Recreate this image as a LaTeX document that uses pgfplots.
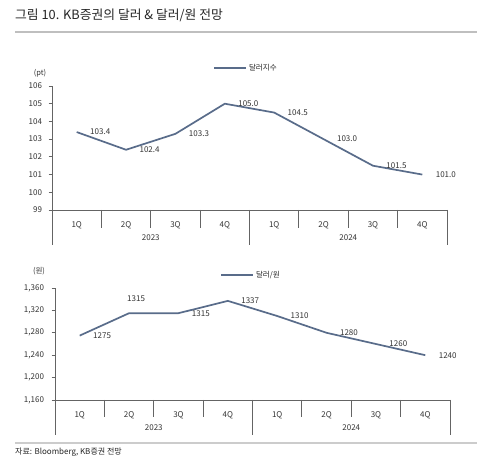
\documentclass[border=0pt]{standalone}
\usepackage{fontspec}
\setmainfont{Noto Sans CJK KR}
\usepackage{pgfplots}
\pgfplotsset{compat=1.18}
\definecolor{lineblue}{RGB}{89,108,138}
\definecolor{axisgray}{RGB}{100,100,100}
\newcommand{\sep}[3]{\draw[axisgray, line width=0.8pt] (axis cs:#1,#2) -- ([yshift=-#3]axis cs:#1,#2);}
\begin{document}
\begin{tikzpicture}[x=1pt,y=1pt]
\fill[white] (0,0) rectangle (500,468);
\path[use as bounding box] (0,0) rectangle (500,468);
\node[anchor=west, font=\fontsize{12.8}{15}\selectfont, text=black!85, inner sep=0pt] at (15,453) {그림 10. KB증권의 달러 \& 달러/원 전망};
\draw[black!25, line width=1.2pt] (15,436) -- (477,436);
\draw[black!20, line width=1.2pt] (15,25) -- (477,25);
\node[anchor=west, font=\fontsize{8}{9}\selectfont, text=black!85, inner sep=0pt] at (15,16) {자료: Bloomberg, KB증권 전망};

\pgfplotsset{mystyle/.style={
  scale only axis, width=395pt,
  xmin=-0.5, xmax=7.5,
  axis lines=left, axis line style={-, draw=axisgray, line width=0.8pt},
  xtick={0,...,7}, xticklabels={1Q,2Q,3Q,4Q,1Q,2Q,3Q,4Q},
  x tick style={draw=none},
  xticklabel style={anchor=center, yshift=-12pt},
  y tick style={draw=axisgray, line width=0.8pt},
  tick align=outside, major tick length=3.5pt,
  ticklabel style={font=\fontsize{8}{9}\selectfont, text=black!80},
  /pgf/number format/assume math mode=true,
  clip=false,
  legend style={draw=none, fill=none, font=\fontsize{7.5}{9}\selectfont, anchor=west, inner sep=0pt, text=black!85},
  legend image code/.code={\draw[##1] (0pt,0pt) -- (32pt,0pt);},
}}
\pgfplotsset{lbl/.style={draw=none, forget plot, nodes near coords, point meta=explicit symbolic,
  every node near coord/.append style={anchor=west, xshift=10pt, font=\fontsize{8}{9}\selectfont, text=black!80}}}

% ---------- top chart ----------
\begin{axis}[mystyle, at={(52pt,258pt)}, anchor=south west, height=124pt,
  ymin=99, ymax=106, ytick={99,...,106}, yticklabel style={xshift=-3pt},
  legend style={at={(rel axis cs:0.408,1)}, yshift=18pt}]
\addplot[lineblue, line width=1.7pt, mark=none] coordinates {
  (0,103.4) (1,102.4) (2,103.3) (3,105.0) (4,104.5) (5,103.0) (6,101.5) (7,101.0)};
\addlegendentry{달러지수}
\addplot[lbl] coordinates {
  (0,103.4)[103.4] (1,102.4)[102.4] (2,103.3)[103.3] (3,105.0)[105.0]
  (4,104.5)[104.5] (5,103.0)[103.0] (6,101.5)[101.5] (7,101.0)[101.0]};
\sep{-0.5}{99}{35pt}\sep{3.5}{99}{35pt}\sep{7.5}{99}{35pt}
\sep{0.5}{99}{18pt}\sep{1.5}{99}{18pt}\sep{2.5}{99}{18pt}
\sep{4.5}{99}{18pt}\sep{5.5}{99}{18pt}\sep{6.5}{99}{18pt}
\node[font=\fontsize{8}{9}\selectfont, text=black!80] at (axis cs:1.5,99) [yshift=-28pt] {2023};
\node[font=\fontsize{8}{9}\selectfont, text=black!80] at (axis cs:5.5,99) [yshift=-28pt] {2024};
\node[font=\fontsize{7.5}{9}\selectfont, text=black!80] at (rel axis cs:0,1) [xshift=-12pt, yshift=13pt] {(pt)};
\end{axis}

% ---------- bottom chart ----------
\begin{axis}[mystyle, at={(55pt,68pt)}, anchor=south west, height=112pt,
  ymin=1160, ymax=1360, ytick={1160,1200,...,1360}, yticklabel style={xshift=-4pt},
  /pgf/number format/1000 sep={,},
  legend style={at={(rel axis cs:0.418,1)}, yshift=13pt}]
\addplot[lineblue, line width=1.7pt, mark=none] coordinates {
  (0,1275) (1,1315) (2,1315) (3,1337) (4,1310) (5,1280) (6,1260) (7,1240)};
\addlegendentry{달러/원}
\addplot[lbl] coordinates {
  (0,1275)[1275] (2,1315)[1315] (3,1337)[1337]
  (4,1310)[1310] (5,1280)[1280] (6,1260)[1260] (7,1240)[1240]};
\addplot[lbl, every node near coord/.append style={anchor=center, xshift=-3pt, yshift=15pt}] coordinates {(1,1315)[1315]};
\sep{-0.5}{1160}{35pt}\sep{3.5}{1160}{35pt}\sep{7.5}{1160}{35pt}
\sep{0.5}{1160}{17pt}\sep{1.5}{1160}{17pt}\sep{2.5}{1160}{17pt}
\sep{4.5}{1160}{17pt}\sep{5.5}{1160}{17pt}\sep{6.5}{1160}{17pt}
\node[font=\fontsize{8}{9}\selectfont, text=black!80] at (axis cs:1.5,1160) [yshift=-28pt] {2023};
\node[font=\fontsize{8}{9}\selectfont, text=black!80] at (axis cs:5.5,1160) [yshift=-28pt] {2024};
\node[font=\fontsize{7.5}{9}\selectfont, text=black!80] at (rel axis cs:0,1) [xshift=-16pt, yshift=17pt] {(원)};
\end{axis}
\end{tikzpicture}
\end{document}
